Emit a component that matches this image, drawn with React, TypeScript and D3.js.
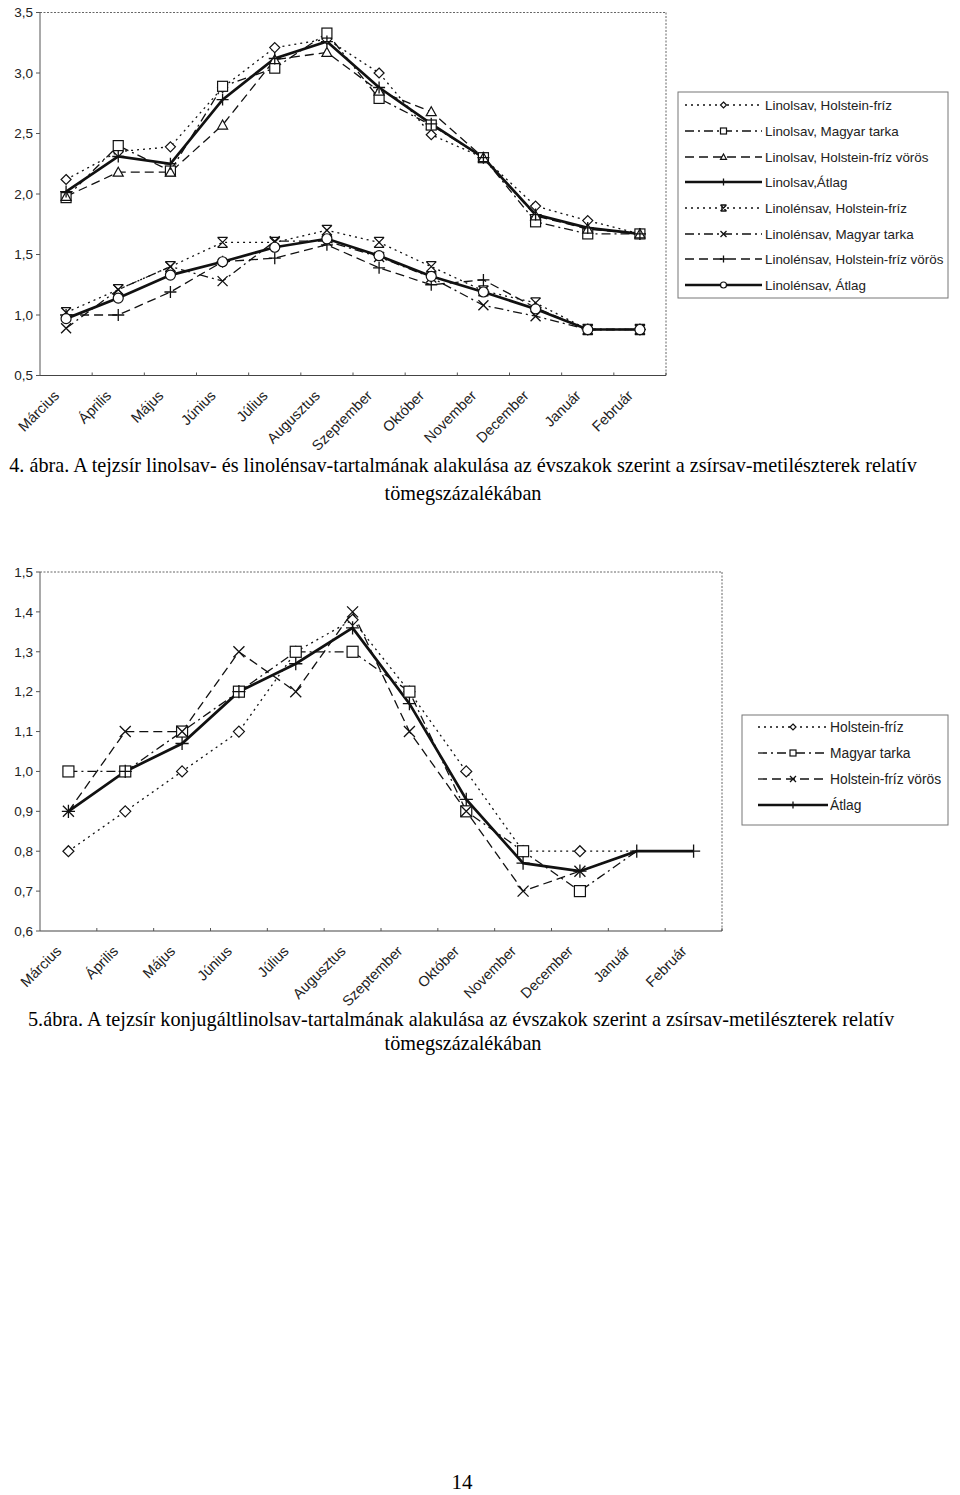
import * as d3 from "d3";

const months = [
  "Március", "Április", "Május", "Június", "Július", "Augusztus",
  "Szeptember", "Október", "November", "December", "Január", "Február",
];

// 4. ábra – linolsav
const linolsavHF = [2.12, 2.35, 2.39, 2.88, 3.21, 3.28, 3.0, 2.49, 2.3, 1.9, 1.78, 1.67];
const linolsavMT = [1.97, 2.4, 2.19, 2.89, 3.04, 3.33, 2.79, 2.57, 2.3, 1.77, 1.67, 1.67];
const linolsavHFV = [1.98, 2.18, 2.18, 2.57, 3.11, 3.17, 2.85, 2.68, 2.3, 1.82, 1.71, 1.67];
const linolsavAtlag = [2.02, 2.31, 2.25, 2.78, 3.12, 3.26, 2.88, 2.58, 2.3, 1.83, 1.72, 1.67];
// 4. ábra – linolénsav
const linolensavHF = [1.02, 1.21, 1.4, 1.6, 1.6, 1.7, 1.6, 1.4, 1.2, 1.1, 0.88, 0.88];
const linolensavMT = [0.89, 1.21, 1.4, 1.28, 1.61, 1.61, 1.48, 1.31, 1.08, 0.99, 0.88, 0.88];
const linolensavHFV = [1.0, 1.0, 1.19, 1.44, 1.47, 1.58, 1.39, 1.25, 1.29, 1.06, 0.88, 0.88];
const linolensavAtlag = [0.97, 1.14, 1.33, 1.44, 1.56, 1.63, 1.49, 1.32, 1.19, 1.05, 0.88, 0.88];

// 5. ábra – konjugált linolsav
const klsHF = [0.8, 0.9, 1.0, 1.1, 1.3, 1.38, 1.2, 1.0, 0.8, 0.8, 0.8, null];
const klsMT = [1.0, 1.0, 1.1, 1.2, 1.3, 1.3, 1.2, 0.9, 0.8, 0.7, 0.8, null];
const klsHFV = [0.9, 1.1, 1.1, 1.3, 1.2, 1.4, 1.1, 0.9, 0.7, 0.75, 0.8, null];
const klsAtlag = [0.9, 1.0, 1.07, 1.2, 1.27, 1.36, 1.17, 0.93, 0.77, 0.75, 0.8, 0.8];

const ticks1 = [0.5, 1.0, 1.5, 2.0, 2.5, 3.0, 3.5];
const ticks2 = [0.6, 0.7, 0.8, 0.9, 1.0, 1.1, 1.2, 1.3, 1.4, 1.5];

const legend1 = [
  "Linolsav, Holstein-fríz",
  "Linolsav, Magyar tarka",
  "Linolsav, Holstein-fríz vörös",
  "Linolsav,Átlag",
  "Linolénsav, Holstein-fríz",
  "Linolénsav, Magyar tarka",
  "Linolénsav, Holstein-fríz vörös",
  "Linolénsav, Átlag",
];
const legend2 = ["Holstein-fríz", "Magyar tarka", "Holstein-fríz vörös", "Átlag"];

const caption1a =
  "4. ábra. A tejzsír linolsav- és linolénsav-tartalmának alakulása az évszakok szerint a zsírsav-metilészterek relatív";
const caption2a =
  "5.ábra. A tejzsír konjugáltlinolsav-tartalmának alakulása az évszakok szerint a zsírsav-metilészterek relatív";
const caption2 = "tömegszázalékában";

type Marker = "diamond" | "square" | "triangle" | "plus" | "cross" | "star" | "circle";
type Series = {
  name: string;
  values: (number | null)[];
  dash: string;
  width: number;
  marker: Marker;
  markerUntil?: number; // markers are drawn only before this index
};

const DOT = "2,4";
const DASHDOT = "9,4,2,4";
const DASH = "9,5";
const SOLID = "";

const series1: Series[] = [
  { name: legend1[0], values: linolsavHF, dash: DOT, width: 1.3, marker: "diamond" },
  { name: legend1[1], values: linolsavMT, dash: DASHDOT, width: 1.3, marker: "square" },
  { name: legend1[2], values: linolsavHFV, dash: DASH, width: 1.3, marker: "triangle" },
  { name: legend1[3], values: linolsavAtlag, dash: SOLID, width: 2.7, marker: "plus" },
  { name: legend1[4], values: linolensavHF, dash: DOT, width: 1.3, marker: "star" },
  { name: legend1[5], values: linolensavMT, dash: DASHDOT, width: 1.3, marker: "cross" },
  { name: legend1[6], values: linolensavHFV, dash: DASH, width: 1.3, marker: "plus" },
  { name: legend1[7], values: linolensavAtlag, dash: SOLID, width: 2.7, marker: "circle" },
];

const series2: Series[] = [
  { name: legend2[0], values: klsHF, dash: DOT, width: 1.3, marker: "diamond", markerUntil: 10 },
  { name: legend2[1], values: klsMT, dash: DASHDOT, width: 1.3, marker: "square", markerUntil: 10 },
  { name: legend2[2], values: klsHFV, dash: DASH, width: 1.3, marker: "cross", markerUntil: 10 },
  { name: legend2[3], values: klsAtlag, dash: SOLID, width: 2.7, marker: "plus" },
];

const INK = "#111";
const SANS = "'Liberation Sans', Arial, sans-serif";
const SERIF = "'Liberation Serif', 'Times New Roman', serif";

function MarkerShape({ type, x, y, s }: { type: Marker; x: number; y: number; s: number }) {
  const common = { stroke: INK, strokeWidth: 1.2, fill: "white" };
  switch (type) {
    case "diamond":
      return <path d={`M${x},${y - s}L${x + s},${y}L${x},${y + s}L${x - s},${y}Z`} {...common} />;
    case "square":
      return <rect x={x - s} y={y - s} width={2 * s} height={2 * s} {...common} />;
    case "triangle":
      return <path d={`M${x},${y - s}L${x + s},${y + s * 0.8}L${x - s},${y + s * 0.8}Z`} {...common} />;
    case "circle":
      return <circle cx={x} cy={y} r={s} {...common} />;
    case "plus": {
      const p = s * 1.2;
      return <path d={`M${x - p},${y}H${x + p}M${x},${y - p}V${y + p}`} stroke={INK} strokeWidth={1.3} fill="none" />;
    }
    case "cross":
      return <path d={`M${x - s},${y - s}L${x + s},${y + s}M${x - s},${y + s}L${x + s},${y - s}`} stroke={INK} strokeWidth={1.3} fill="none" />;
    case "star":
      return (
        <path
          d={`M${x - s},${y - s}L${x + s},${y + s}M${x - s},${y + s}L${x + s},${y - s}M${x - s},${y - s}H${x + s}M${x - s},${y + s}H${x + s}`}
          stroke={INK}
          strokeWidth={1.3}
          fill="none"
        />
      );
  }
}

type ChartProps = {
  series: Series[];
  left: number;
  right: number;
  top: number;
  bottom: number;
  domain: [number, number];
  ticks: number[];
  markerSize: number;
};

function Chart({ series, left, right, top, bottom, domain, ticks, markerSize }: ChartProps) {
  const x = d3.scaleBand<string>().domain(months).range([left, right]);
  const y = d3.scaleLinear().domain(domain).range([bottom, top]);
  const cx = (m: string) => (x(m) ?? 0) + x.bandwidth() / 2;
  const fmt = (v: number) => d3.format(".1f")(v).replace(".", ",");

  const line = d3
    .line<number | null>()
    .defined((d) => d != null)
    .x((_, i) => cx(months[i]))
    .y((d) => y(d as number));

  return (
    <g>
      {/* frame */}
      <line x1={left} x2={right} y1={top} y2={top} stroke="#666" strokeWidth={1} strokeDasharray="2,1.5" />
      <line x1={right} x2={right} y1={top} y2={bottom} stroke="#666" strokeWidth={1} strokeDasharray="2,1.5" />
      <line x1={left} x2={right} y1={bottom} y2={bottom} stroke="#444" strokeWidth={1.2} />
      <line x1={left} x2={left} y1={top} y2={bottom} stroke="#555" strokeWidth={1} />

      {ticks.map((t) => (
        <g key={t}>
          <line x1={left - 4} x2={left} y1={y(t)} y2={y(t)} stroke="#555" />
          <text x={left - 7} y={y(t)} dy="0.35em" textAnchor="end" fontFamily={SANS} fontSize={13.5} fill="#222">
            {fmt(t)}
          </text>
        </g>
      ))}

      {months.map((m) => (
        <g key={m}>
          <line x1={x(m)! + x.bandwidth()} x2={x(m)! + x.bandwidth()} y1={bottom - 3} y2={bottom} stroke="#555" />
          <text
            transform={`translate(${cx(m) - 6},${bottom + 21}) rotate(-45)`}
            textAnchor="end"
            fontFamily={SANS}
            fontSize={14.5}
            fill="#222"
          >
            {m}
          </text>
        </g>
      ))}

      {series.map((s) => (
        <path
          key={s.name}
          d={line(s.values) ?? ""}
          fill="none"
          stroke={INK}
          strokeWidth={s.width}
          strokeDasharray={s.dash}
        />
      ))}
      {series.map((s) => (
        <g key={s.name + "m"}>
          {s.values.map((v, i) =>
            v == null || (s.markerUntil != null && i >= s.markerUntil) ? null : (
              <MarkerShape key={i} type={s.marker} x={cx(months[i])} y={y(v)} s={markerSize} />
            )
          )}
        </g>
      ))}
    </g>
  );
}

function Legend({
  items, x, y, w, h, rowY, lineX0, lineX1, textX, fontSize, markerSize,
}: {
  items: Series[]; x: number; y: number; w: number; h: number; rowY: number[];
  lineX0: number; lineX1: number; textX: number; fontSize: number; markerSize: number;
}) {
  return (
    <g>
      <rect x={x} y={y} width={w} height={h} fill="white" stroke="#777" strokeWidth={1} />
      {items.map((s, i) => (
        <g key={s.name}>
          <line x1={lineX0} x2={lineX1} y1={rowY[i]} y2={rowY[i]} stroke={INK} strokeWidth={s.width} strokeDasharray={s.dash} />
          <MarkerShape type={s.marker} x={(lineX0 + lineX1) / 2} y={rowY[i]} s={markerSize} />
          <text x={textX} y={rowY[i]} dy="0.35em" fontFamily={SANS} fontSize={fontSize} fill="#222">
            {s.name}
          </text>
        </g>
      ))}
    </g>
  );
}

export default function App() {
  return (
    <svg
      width={960}
      height={1495}
      style={{ position: "absolute", left: 0, top: 0, display: "block", background: "white" }}
    >
      <Chart series={series1} left={40} right={666} top={12.5} bottom={375.5} domain={[0.5, 3.5]} ticks={ticks1} markerSize={5} />
      <Legend
        items={series1}
        x={678} y={92} w={270} h={206}
        rowY={[105, 131, 157, 182, 208, 234, 259, 285]}
        lineX0={685} lineX1={762} textX={765} fontSize={13.4} markerSize={3}
      />
      <text x={463} y={472} textAnchor="middle" fontFamily={SERIF} fontSize={20.2} fill="#000">{caption1a}</text>
      <text x={463} y={500} textAnchor="middle" fontFamily={SERIF} fontSize={20.2} fill="#000">{caption2}</text>

      <Chart series={series2} left={40} right={722} top={572} bottom={931} domain={[0.6, 1.5]} ticks={ticks2} markerSize={5.5} />
      <Legend
        items={series2}
        x={742} y={715} w={206} h={110}
        rowY={[727, 753, 779, 805]}
        lineX0={758} lineX1={828} textX={830} fontSize={13.8} markerSize={3}
      />
      <text x={461} y={1026} textAnchor="middle" fontFamily={SERIF} fontSize={20.3} fill="#000">{caption2a}</text>
      <text x={463} y={1050} textAnchor="middle" fontFamily={SERIF} fontSize={20.2} fill="#000">{caption2}</text>

      <text x={462} y={1489} textAnchor="middle" fontFamily={SERIF} fontSize={21} fill="#000">14</text>
    </svg>
  );
}
